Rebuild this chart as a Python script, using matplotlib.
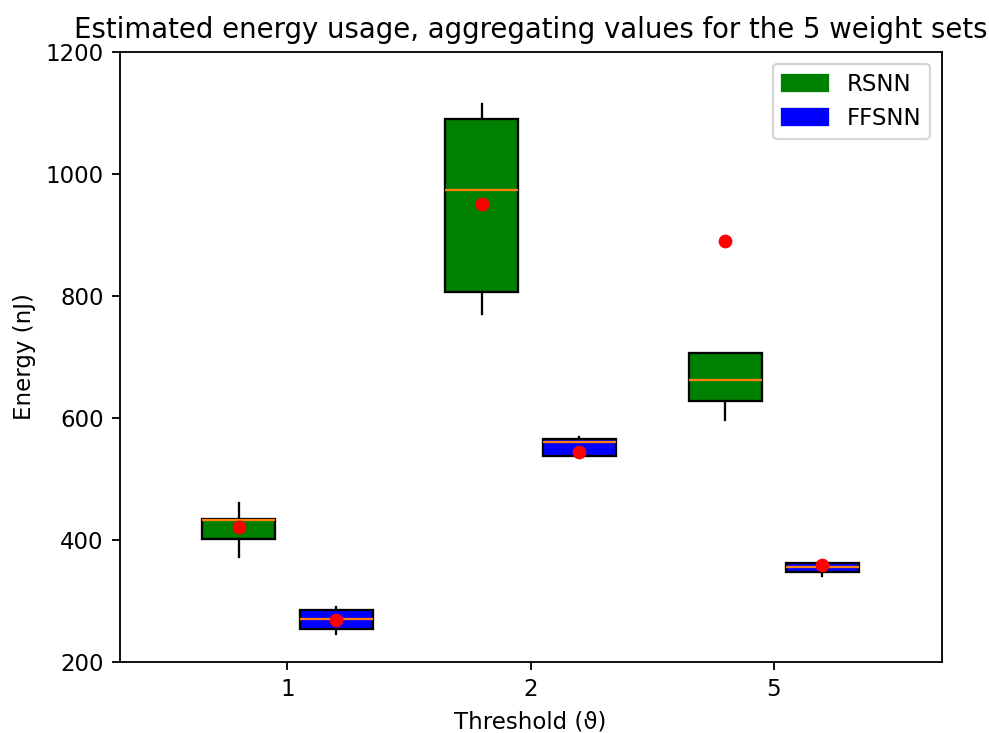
import numpy as np
import matplotlib
matplotlib.use("Agg")
import matplotlib.pyplot as plt
from matplotlib.patches import Patch

thresholds = ["1", "2", "5"]

# energy (nJ) for the 5 weight sets, one list per threshold
rsnn = [
    [372, 402, 433, 434, 461],
    [770, 807, 973, 1090, 1115],
    [597, 627, 662, 706, 1862],
]
ffsnn = [
    [246, 254, 270, 285, 290],
    [486, 538, 560, 566, 569],
    [341, 348, 356, 362, 388],
]

DPI = 165
fig = plt.figure(figsize=(989 / DPI, 733 / DPI), dpi=DPI)
ax = fig.add_axes([0.121, 0.097, 0.831, 0.832])

x = np.arange(1, len(thresholds) + 1)
mean_style = dict(marker="o", markerfacecolor="red", markeredgecolor="red", markersize=5)

b1 = ax.boxplot(rsnn, positions=x - 0.2, widths=0.3, patch_artist=True,
                showmeans=True, showfliers=False, showcaps=False, meanprops=mean_style)
b2 = ax.boxplot(ffsnn, positions=x + 0.2, widths=0.3, patch_artist=True,
                showmeans=True, showfliers=False, showcaps=False, meanprops=mean_style)

for bp, col in [(b1, "green"), (b2, "blue")]:
    for box in bp["boxes"]:
        box.set_facecolor(col)

ax.set_xticks(x)
ax.set_xticklabels(thresholds)
ax.set_xlim(0.31, 3.69)
ax.set_ylim(200, 1200)

ax.set_xlabel("Threshold (\u03d1)")
ax.set_ylabel("Energy (nJ)")
ax.set_title("Estimated energy usage, aggregating values for the 5 weight sets")

ax.legend(handles=[Patch(color="green", label="RSNN"), Patch(color="blue", label="FFSNN")],
          loc="upper right")

fig.savefig("out.png", dpi=DPI)
